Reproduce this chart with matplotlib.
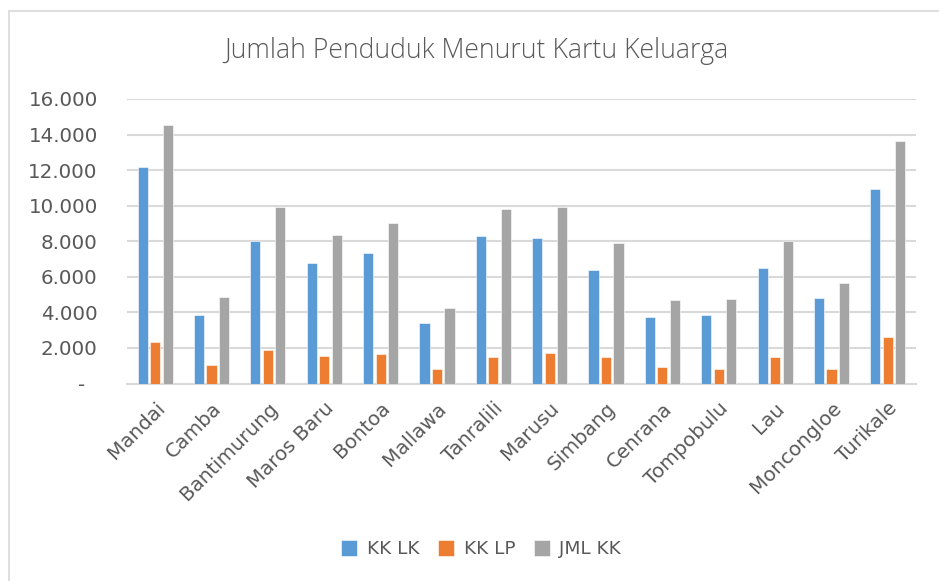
import numpy as np
import matplotlib
matplotlib.use("Agg")
import matplotlib.pyplot as plt
from matplotlib.patches import Rectangle
from matplotlib.ticker import FuncFormatter

# data
kecamatan = ["Mandai", "Camba", "Bantimurung", "Maros Baru", "Bontoa", "Mallawa",
             "Tanralili", "Marusu", "Simbang", "Cenrana", "Tompobulu", "Lau",
             "Moncongloe", "Turikale"]
kk_lk = [12180, 3830, 7990, 6770, 7340, 3420, 8270, 8200, 6380, 3730, 3870, 6490, 4800, 10960]
kk_lp = [2360, 1030, 1900, 1540, 1670, 790, 1480, 1710, 1480, 920, 830, 1480, 830, 2610]
jml_kk = [14560, 4880, 9910, 8350, 9020, 4220, 9790, 9910, 7900, 4690, 4730, 7990, 5670, 13620]

series = [("KK LK", kk_lk, "#5B9BD5"),
          ("KK LP", kk_lp, "#ED7D31"),
          ("JML KK", jml_kk, "#A5A5A5")]

txt = "#595959"
plt.rcParams["font.family"] = ["DejaVu Sans"]

W, H = 939, 581
fig = plt.figure(figsize=(W / 100, H / 100), dpi=100)
ax = fig.add_axes([127 / W, 1 - 383.5 / H, (916 - 127) / W, (383.5 - 99) / H])

# chart frame (only top/left visible in the reference)
fig.patches.append(Rectangle((9 / W, -0.1), 1.2, 1 - 11 / H + 0.1, transform=fig.transFigure,
                             fill=False, edgecolor="#D9D9D9", linewidth=1.2))

x = np.arange(len(kecamatan))
bw = 0.18
step = 0.222
for i, (name, vals, col) in enumerate(series):
    ax.bar(x + (i - 1) * step, vals, width=bw, color=col, label=name, zorder=3,
           edgecolor="white", linewidth=0.4)

ax.set_xlim(-0.5, len(kecamatan) - 0.5)
ax.set_ylim(0, 16000)
ax.set_yticks(np.arange(0, 16001, 2000))

def fmt(v, pos):
    if v == 0:
        return "-  "
    return f"{int(v):,}".replace(",", ".")

ax.yaxis.set_major_formatter(FuncFormatter(fmt))
ax.grid(axis="y", color="#D9D9D9", linewidth=1.5, zorder=0)
for s in ["top", "right", "left"]:
    ax.spines[s].set_visible(False)
ax.spines["bottom"].set_color("#D9D9D9")
ax.spines["bottom"].set_linewidth(1.5)

ax.tick_params(axis="y", length=0, pad=21, labelsize=14.3, labelcolor=txt)
ax.tick_params(axis="x", length=0, pad=11, labelsize=14.3, labelcolor=txt)
ax.set_xticks(x)
ax.set_xticklabels(kecamatan, rotation=45, ha="right", rotation_mode="anchor")

fig.text(476 / W, 1 - 51 / H, "Jumlah Penduduk Menurut Kartu Keluarga",
         ha="center", va="center", fontsize=19.2, color=txt,
         family=["Open Sans", "DejaVu Sans"], fontweight="light")

fig.legend(loc="center", bbox_to_anchor=(481 / W, 1 - 549 / H), ncol=3, frameon=False,
           fontsize=13.3, labelcolor=txt, handlelength=0.9, handleheight=1.0,
           handletextpad=0.5, columnspacing=1.0)

fig.savefig("out.png", dpi=100)
